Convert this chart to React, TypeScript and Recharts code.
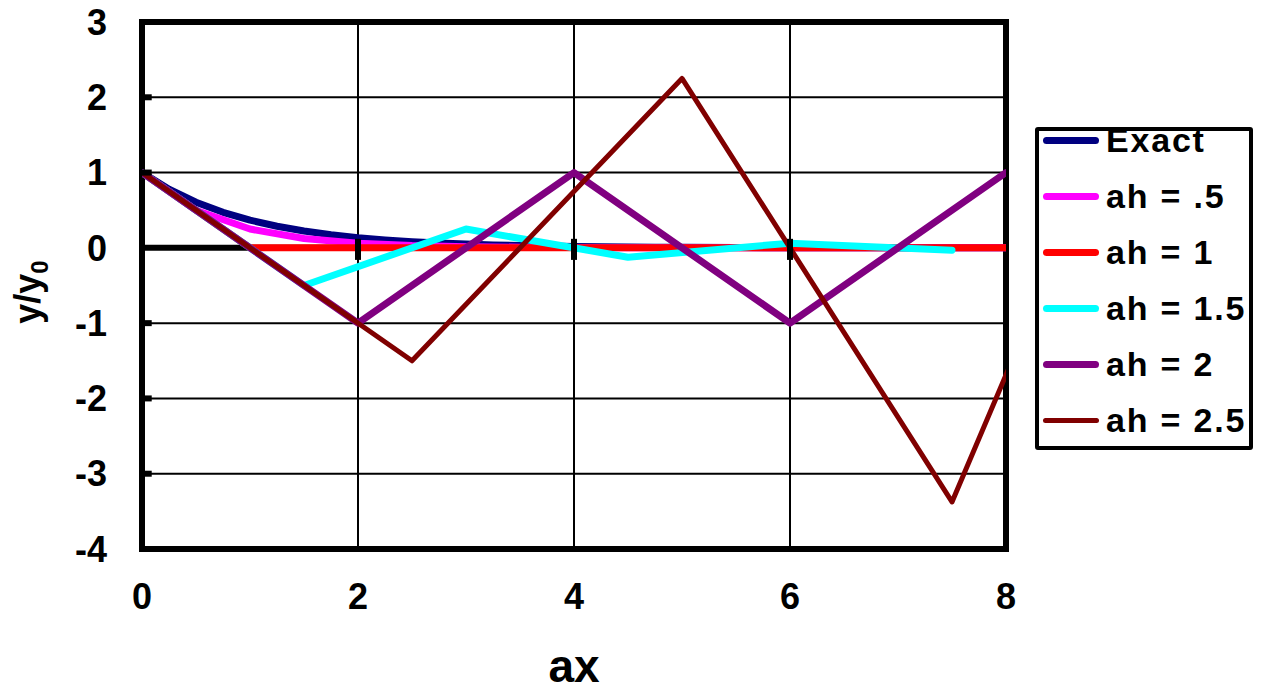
import React from "react";
import {
  LineChart,
  Line,
  XAxis,
  YAxis,
  CartesianGrid,
  ReferenceLine,
  ReferenceArea,
  Label,
} from "recharts";

// ---- data ----
const xTicks = [0, 2, 4, 6, 8];
const yTicks = [-4, -3, -2, -1, 0, 1, 2, 3];

const exactData = [
  { x: 0, y: 1 }, { x: 0.25, y: 0.779 }, { x: 0.5, y: 0.607 }, { x: 0.75, y: 0.472 },
  { x: 1, y: 0.368 }, { x: 1.25, y: 0.287 }, { x: 1.5, y: 0.223 }, { x: 1.75, y: 0.174 },
  { x: 2, y: 0.135 }, { x: 2.25, y: 0.105 }, { x: 2.5, y: 0.082 }, { x: 2.75, y: 0.064 },
  { x: 3, y: 0.05 }, { x: 3.25, y: 0.039 }, { x: 3.5, y: 0.03 }, { x: 3.75, y: 0.024 },
  { x: 4, y: 0.018 }, { x: 4.25, y: 0.014 }, { x: 4.5, y: 0.011 }, { x: 4.75, y: 0.009 },
  { x: 5, y: 0.007 }, { x: 5.5, y: 0.004 }, { x: 6, y: 0.002 }, { x: 6.5, y: 0.0015 },
  { x: 7, y: 0.001 }, { x: 7.5, y: 0.0006 }, { x: 8, y: 0.0003 },
];
const ah05Data = [
  { x: 0, y: 1 }, { x: 0.5, y: 0.5 }, { x: 1, y: 0.25 }, { x: 1.5, y: 0.125 },
  { x: 2, y: 0.0625 }, { x: 2.5, y: 0.031 }, { x: 3, y: 0.016 }, { x: 3.5, y: 0.008 },
  { x: 4, y: 0.004 }, { x: 4.5, y: 0.002 }, { x: 5, y: 0.001 }, { x: 5.5, y: 0.0005 },
  { x: 6, y: 0.0002 }, { x: 6.5, y: 0.0001 }, { x: 7, y: 0.00006 }, { x: 7.5, y: 0.00003 },
  { x: 8, y: 0.00002 },
];
const ah1Data = [
  { x: 0, y: 1 }, { x: 1, y: 0 }, { x: 2, y: 0 }, { x: 3, y: 0 }, { x: 4, y: 0 },
  { x: 5, y: 0 }, { x: 6, y: 0 }, { x: 7, y: 0 }, { x: 8, y: 0 },
];
const ah15Data = [
  { x: 0, y: 1 }, { x: 1.5, y: -0.5 }, { x: 3, y: 0.25 }, { x: 4.5, y: -0.125 },
  { x: 6, y: 0.0625 }, { x: 7.5, y: -0.031 },
];
const ah2Data = [
  { x: 0, y: 1 }, { x: 2, y: -1 }, { x: 4, y: 1 }, { x: 6, y: -1 }, { x: 8, y: 1 },
];
const ah25Data = [
  { x: 0, y: 1 }, { x: 2.5, y: -1.5 }, { x: 5, y: 2.25 }, { x: 7.5, y: -3.375 }, { x: 10, y: 5.06 },
];
const zeroLineData = [{ x: 0, y: 0 }, { x: 8, y: 0 }];

const series = [
  { name: "Exact", color: "#000080", width: 7, data: exactData },
  { name: "ah = .5", color: "#FF00FF", width: 7, data: ah05Data },
  { name: "ah = 1", color: "#FF0000", width: 7, data: ah1Data },
  { name: "ah = 1.5", color: "#00FFFF", width: 7, data: ah15Data },
  { name: "ah = 2", color: "#800080", width: 7, data: ah2Data },
  { name: "ah = 2.5", color: "#800000", width: 5, data: ah25Data },
];

const FONT = '"Liberation Sans", Arial, Helvetica, sans-serif';

const LegendBox = () => (
  <div
    style={{
      position: "absolute",
      left: 1035,
      top: 127,
      width: 218,
      height: 323,
      boxSizing: "border-box",
      border: "4px solid #000",
      borderRadius: 3,
      background: "#fff",
      fontFamily: FONT,
      fontWeight: "bold",
      fontSize: 34,
      color: "#000",
      overflow: "visible",
    }}
  >
    <div style={{ position: "relative", top: -19 }}>
      {series.map((s) => (
        <div
          key={s.name}
          style={{ height: 56, display: "flex", alignItems: "center", whiteSpace: "nowrap" }}
        >
          <div
            style={{
              marginLeft: 4,
              width: 56,
              height: s.width,
              borderRadius: 4,
              background: s.color,
              flex: "none",
            }}
          />
          <span style={{ marginLeft: 7, letterSpacing: 1.8 }}>{s.name}</span>
        </div>
      ))}
    </div>
  </div>
);

const YTitle = () => (
  <g transform="translate(40, 292) rotate(-90)">
    <text
      x={0}
      y={0}
      textAnchor="middle"
      fontFamily={FONT}
      fontWeight="bold"
      fontSize={36}
      fill="#000"
    >
      y/y
      <tspan fontSize={24} dy={8}>0</tspan>
    </text>
  </g>
);

const XTitle = () => (
  <text
    x={574}
    y={682}
    textAnchor="middle"
    fontFamily={FONT}
    fontWeight="bold"
    fontSize={46}
    fill="#000"
  >
    ax
  </text>
);

export default function App() {
  const tickStyle = { fontFamily: FONT, fontWeight: "bold", fontSize: 36, fill: "#000" };
  return (
    <div style={{ width: 1262, height: 692, position: "relative" }}>
      <style>{`html,body{margin:0;padding:0;overflow:hidden;}`}</style>
      <LineChart
        width={1262}
        height={692}
        margin={{ top: 22, right: 256, bottom: 93, left: 82 }}
      >
        <CartesianGrid stroke="#000" strokeWidth={2} horizontal vertical />
        <XAxis
          type="number"
          dataKey="x"
          domain={[0, 8]}
          ticks={xTicks}
          allowDataOverflow
          axisLine={false}
          tickLine={false}
          tickSize={0}
          tickMargin={34}
          height={50}
          tick={tickStyle}
          interval={0}
        >
          <Label content={<XTitle />} />
        </XAxis>
        <YAxis
          type="number"
          dataKey="y"
          domain={[-4, 3]}
          ticks={yTicks}
          allowDataOverflow
          axisLine={false}
          tickLine={false}
          tickSize={0}
          tickMargin={35}
          width={60}
          tick={tickStyle}
          interval={0}
        >
          <Label content={<YTitle />} />
        </YAxis>
        <Line
          data={zeroLineData}
          dataKey="y"
          type="linear"
          stroke="#000"
          strokeWidth={6}
          dot={false}
          activeDot={false}
          legendType="none"
          isAnimationActive={false}
        />
        {series.map((s) => (
          <Line
            key={s.name}
            name={s.name}
            data={s.data}
            dataKey="y"
            type="linear"
            stroke={s.color}
            strokeWidth={s.width}
            strokeLinecap="round"
            strokeLinejoin="round"
            dot={false}
            activeDot={false}
            isAnimationActive={false}
          />
        ))}
        {[2, 4, 6].map((t) => (
          <ReferenceLine
            key={"xt" + t}
            segment={[{ x: t, y: 0.12 }, { x: t, y: -0.16 }]}
            stroke="#000"
            strokeWidth={6}
          />
        ))}
        {[-3, -2, -1, 1, 2].map((t) => (
          <ReferenceLine
            key={"yt" + t}
            segment={[{ x: 0, y: t }, { x: 0.09, y: t }]}
            stroke="#000"
            strokeWidth={6}
          />
        ))}
        <ReferenceArea
          x1={0}
          x2={8}
          y1={-4}
          y2={3}
          fill="none"
          fillOpacity={0}
          stroke="#000"
          strokeWidth={6}
          strokeOpacity={1}
          ifOverflow="visible"
        />
      </LineChart>
      <LegendBox />
    </div>
  );
}
